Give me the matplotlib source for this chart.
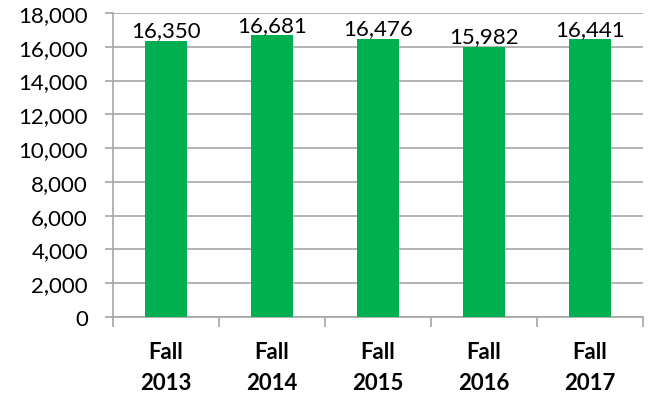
import matplotlib.pyplot as plt
from matplotlib.ticker import FuncFormatter, FixedLocator

# Enrollment by fall term
terms = ['Fall\n2013', 'Fall\n2014', 'Fall\n2015', 'Fall\n2016', 'Fall\n2017']
values = [16350, 16681, 16476, 15982, 16441]

plt.rcParams['font.family'] = ['Lato', 'DejaVu Sans']

fig = plt.figure(figsize=(6.52, 4.02), dpi=100)
ax = fig.add_axes([0.1733, 0.209, 0.8129, 0.7562])

x = range(len(terms))
bars = ax.bar(x, values, width=0.4, color='#00B050', zorder=3)
for b, v in zip(bars, values):
    ax.text(b.get_x() + b.get_width() / 2, v + 30, f'{v:,}', ha='center', va='bottom',
            fontsize=16, color='black', zorder=4)

ax.set_xlim(-0.5, len(terms) - 0.5)
ax.set_ylim(0, 18000)
ax.set_yticks(range(0, 18001, 2000))
ax.yaxis.set_major_formatter(FuncFormatter(lambda v, p: f'{int(v):,}'))
ax.yaxis.grid(True, color='#A6A6A6', linewidth=1.2, zorder=0)
ax.tick_params(axis='y', length=6, width=1.2, color='#A6A6A6', labelsize=16, pad=12)

# category labels centred, tick marks on category boundaries
ax.set_xticks(list(x))
ax.set_xticklabels(terms, fontsize=16, fontweight='bold', linespacing=1.6)
ax.tick_params(axis='x', length=0, pad=17)
ax.xaxis.set_minor_locator(FixedLocator([i - 0.5 for i in range(len(terms) + 1)]))
ax.tick_params(axis='x', which='minor', length=7, width=1.2, color='#A6A6A6')

for s in ['top', 'right']:
    ax.spines[s].set_visible(False)
for s in ['left', 'bottom']:
    ax.spines[s].set_color('#A6A6A6')
    ax.spines[s].set_linewidth(1.2)

fig.savefig('out.png', dpi=100)
